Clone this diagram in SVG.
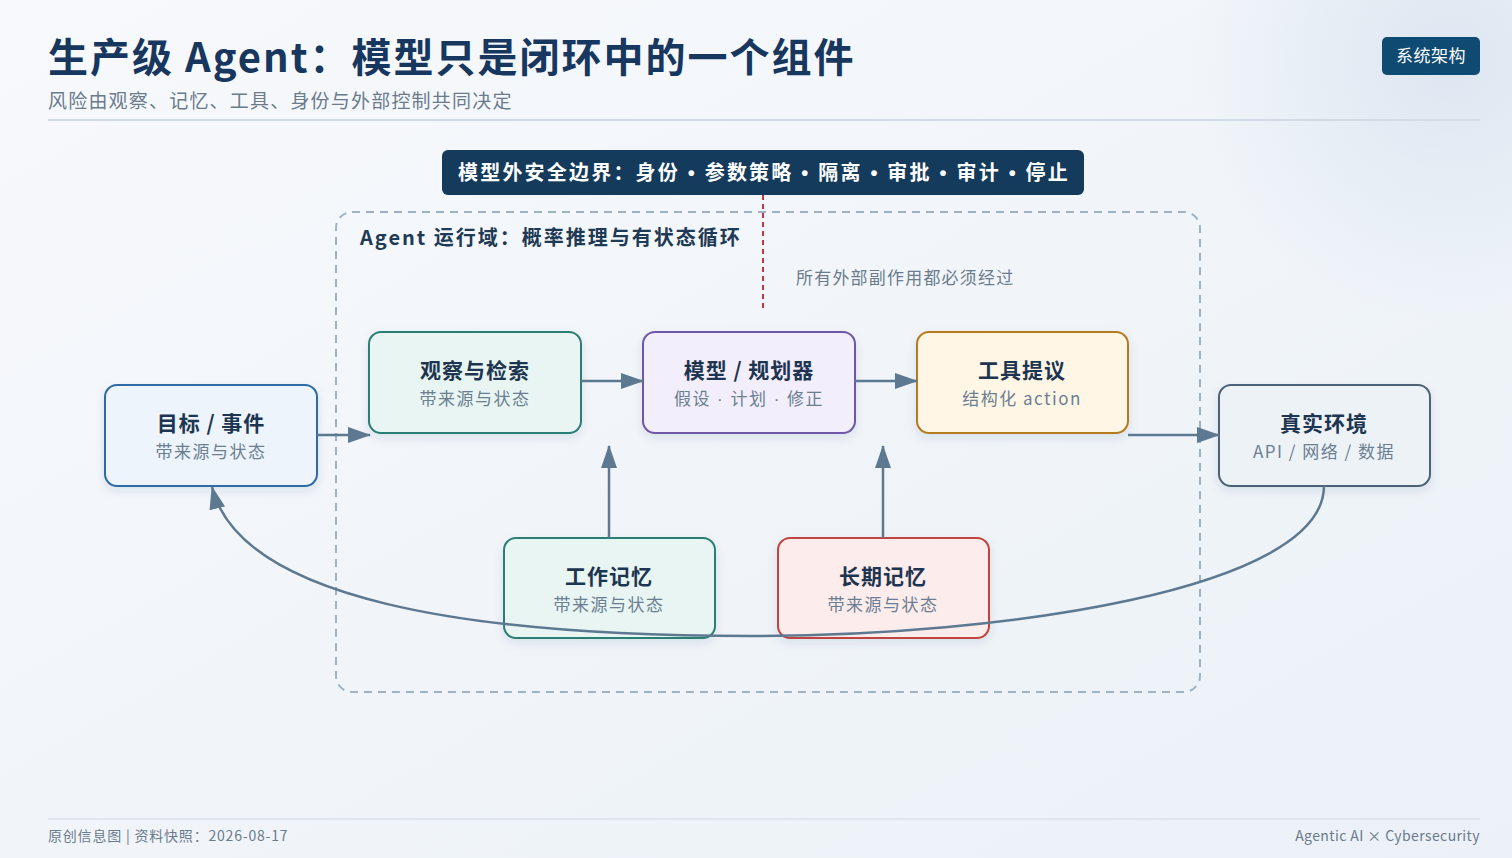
<svg xmlns="http://www.w3.org/2000/svg" width="1512" height="858" viewBox="0 0 1512 858">
<defs>
<linearGradient id="bg" x1="0" y1="0" x2="1" y2="1">
<stop offset="0" stop-color="#f7f9fc"/>
<stop offset="1" stop-color="#ebf1f7"/>
</linearGradient>
<radialGradient id="glow" cx="1450" cy="60" r="260" gradientUnits="userSpaceOnUse">
<stop offset="0" stop-color="#dde6f1"/>
<stop offset="1" stop-color="#dde6f1" stop-opacity="0"/>
</radialGradient>
<filter id="sh" x="-20%" y="-20%" width="140%" height="150%">
<feDropShadow dx="0" dy="4" stdDeviation="5" flood-color="#1e3a5a" flood-opacity="0.10"/>
</filter>
<marker id="ah" markerWidth="24" markerHeight="18" refX="22" refY="9" orient="auto" markerUnits="userSpaceOnUse">
<path d="M0,1 L23,9 L0,17 Z" fill="#5d7891"/>
</marker>
<style>
text{font-family:"Noto Sans CJK SC","Noto Sans",sans-serif;}
.t{font-size:21px;font-weight:700;fill:#1d3550;text-anchor:middle;letter-spacing:1px;}
.s{font-size:17px;fill:#6c7f92;text-anchor:middle;letter-spacing:1.5px;}
.box{stroke-width:2;filter:url(#sh);}
.c{fill:none;stroke:#5d7891;stroke-width:2.5;}
.dot{font-family:"Liberation Sans",sans-serif;}
</style>
</defs>
<rect width="1512" height="858" fill="url(#bg)"/>
<rect width="1512" height="858" fill="url(#glow)"/>

<g id="header">
<text x="48" y="72" font-size="40" font-weight="700" fill="#17375e" letter-spacing="2">生产级 Agent：模型只是闭环中的一个组件</text>
<text x="48" y="108" font-size="19" fill="#6b7b8c" letter-spacing="1.2">风险由观察、记忆、工具、身份与外部控制共同决定</text>
<line x1="48" y1="120" x2="1480" y2="120" stroke="#d3dce6" stroke-width="2"/>
<rect x="1382" y="37" width="98" height="38" rx="5" fill="#0f4a72"/>
<text x="1431" y="62" font-size="17" fill="#ffffff" text-anchor="middle" letter-spacing="0.5">系统架构</text>
</g>

<g id="boundary">
<rect x="336" y="212" width="864" height="480" rx="16" fill="none" stroke="#9fb2c4" stroke-width="2" stroke-dasharray="8 6"/>
<text x="360" y="245" font-size="20" font-weight="700" fill="#1e3a54" letter-spacing="2">Agent 运行域：概率推理与有状态循环</text>
</g>

<g id="security">
<rect x="442" y="150" width="642" height="45" rx="6" fill="#143a5c"/>
<text x="764" y="180" font-size="20" font-weight="700" fill="#ffffff" text-anchor="middle" letter-spacing="2.2">模型外安全边界：身份<tspan class="dot"> • </tspan>参数策略<tspan class="dot"> • </tspan>隔离<tspan class="dot"> • </tspan>审批<tspan class="dot"> • </tspan>审计<tspan class="dot"> • </tspan>停止</text>
<line x1="763" y1="195" x2="763" y2="312" stroke="#c0393b" stroke-width="2" stroke-dasharray="5 4"/>
<text x="796" y="284" font-size="17" fill="#6b7b8c" letter-spacing="1.2">所有外部副作用都必须经过</text>
</g>

<g id="node-goal">
<rect class="box" x="105" y="385" width="212" height="101" rx="12" fill="#edf4fb" stroke="#2e6aa6"/>
<text class="t" x="211" y="431">目标 / 事件</text>
<text class="s" x="211" y="458">带来源与状态</text>
</g>
<g id="node-observe">
<rect class="box" x="369" y="332" width="212" height="101" rx="12" fill="#e8f5f3" stroke="#2a7f74"/>
<text class="t" x="475" y="378">观察与检索</text>
<text class="s" x="475" y="405">带来源与状态</text>
</g>
<g id="node-model">
<rect class="box" x="643" y="332" width="212" height="101" rx="12" fill="#f2eefb" stroke="#6e57a8"/>
<text class="t" x="749" y="378">模型 / 规划器</text>
<text class="s" x="749" y="405">假设<tspan class="dot"> · </tspan>计划<tspan class="dot"> · </tspan>修正</text>
</g>
<g id="node-tool">
<rect class="box" x="917" y="332" width="211" height="101" rx="12" fill="#fff6e6" stroke="#b57a1c"/>
<text class="t" x="1022" y="378">工具提议</text>
<text class="s" x="1022" y="405" letter-spacing="0.8">结构化 action</text>
</g>
<g id="node-env">
<rect class="box" x="1219" y="385" width="211" height="101" rx="12" fill="#edf2f7" stroke="#4d6277"/>
<text class="t" x="1324" y="431">真实环境</text>
<text class="s" x="1324" y="458" letter-spacing="0.8">API / 网络 / 数据</text>
</g>
<g id="node-working">
<rect class="box" x="504" y="538" width="211" height="100" rx="12" fill="#e8f5f3" stroke="#2a7f74"/>
<text class="t" x="609" y="584">工作记忆</text>
<text class="s" x="609" y="611">带来源与状态</text>
</g>
<g id="node-longterm">
<rect class="box" x="778" y="538" width="211" height="100" rx="12" fill="#fdecec" stroke="#c0443f"/>
<text class="t" x="883" y="584">长期记忆</text>
<text class="s" x="883" y="611">带来源与状态</text>
</g>

<g id="connectors">
<line class="c" x1="317" y1="435" x2="370" y2="435" marker-end="url(#ah)"/>
<line class="c" x1="581" y1="381" x2="643" y2="381" marker-end="url(#ah)"/>
<line class="c" x1="855" y1="381" x2="917" y2="381" marker-end="url(#ah)"/>
<line class="c" x1="1128" y1="435" x2="1219" y2="435" marker-end="url(#ah)"/>
<line class="c" x1="609" y1="538" x2="609" y2="446" marker-end="url(#ah)"/>
<line class="c" x1="883" y1="538" x2="883" y2="446" marker-end="url(#ah)"/>
<path class="c" d="M1324,486 C1324,590 1000,636 750,636 C470,636 240,600 212,487" marker-end="url(#ah)"/>
</g>

<g id="footer">
<line x1="48" y1="819" x2="1480" y2="819" stroke="#dfe6ee" stroke-width="2"/>
<text x="48" y="841" font-size="14" fill="#6b7b8c" letter-spacing="0.8">原创信息图 | 资料快照：2026-08-17</text>
<text x="1480" y="841" font-size="14" fill="#6b7b8c" text-anchor="end" letter-spacing="0.4">Agentic AI × Cybersecurity</text>
</g>
</svg>
